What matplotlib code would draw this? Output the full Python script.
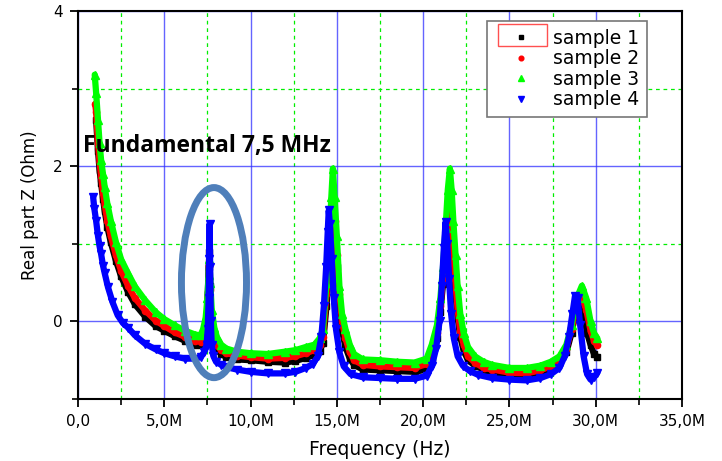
import matplotlib.pyplot as plt
from matplotlib.patches import Ellipse, Rectangle
from matplotlib.ticker import MultipleLocator, FuncFormatter

# frequencies in MHz, real part Z in Ohm
f1 = [1.05, 1.16, 1.25, 1.34, 1.45, 1.55, 1.7, 1.9, 2.2, 2.5, 2.9, 3.3, 3.9, 4.5, 5.0, 5.6, 6.2, 6.8,
      7.1, 7.3, 7.45, 7.52, 7.57, 7.62, 7.66, 7.72, 7.85, 8.0, 8.3, 8.6, 9.2, 10.0, 11.0, 12.0, 12.6,
      13.2, 13.7, 14.0, 14.2, 14.4, 14.55, 14.68, 14.75, 14.85, 15.0, 15.15, 15.3, 15.5, 15.75,
      16.0, 16.5, 17.5, 18.5, 19.5, 20.2, 20.5, 20.8, 21.0, 21.15, 21.3, 21.42, 21.5, 21.6, 21.7,
      21.83, 22.0, 22.15, 22.35, 22.6, 23.0, 23.5, 24.0, 25.0, 26.0, 26.8, 27.4, 27.9, 28.3, 28.6,
      28.9, 29.1, 29.3, 29.5, 29.7, 29.9, 30.1]
z1 = [2.6, 2.2, 1.95, 1.78, 1.58, 1.42, 1.22, 1.02, 0.78, 0.58, 0.38, 0.22, 0.06, -0.06, -0.12, -0.19,
      -0.25, -0.3, -0.31, -0.26, -0.05, 0.35, 0.7, 0.9, 0.45, 0.0, -0.26, -0.36, -0.42, -0.46, -0.49,
      -0.5, -0.52, -0.53, -0.51, -0.47, -0.43, -0.38, -0.28, 0.2, 0.7, 1.25, 1.5, 1.2, 0.7, 0.2, -0.12,
      -0.33, -0.48, -0.56, -0.62, -0.63, -0.64, -0.65, -0.62, -0.48, -0.22, 0.12, 0.48, 0.98, 1.38,
      1.45, 1.25, 0.85, 0.45, 0.05, -0.2, -0.38, -0.5, -0.57, -0.62, -0.66, -0.69, -0.7, -0.66, -0.61,
      -0.53, -0.4, -0.15, 0.18, 0.3, 0.1, -0.15, -0.3, -0.42, -0.46]

f2 = [1.0, 1.05, 1.16, 1.25, 1.34, 1.45, 1.55, 1.7, 1.9, 2.2, 2.5, 2.9, 3.3, 3.9, 4.5, 5.0, 5.6, 6.2,
      6.8, 7.1, 7.3, 7.45, 7.52, 7.57, 7.62, 7.66, 7.72, 7.85, 8.0, 8.3, 8.6, 9.2, 10.0, 11.0, 12.0,
      12.6, 13.2, 13.7, 14.0, 14.2, 14.4, 14.55, 14.68, 14.77, 14.87, 15.0, 15.15, 15.3, 15.5, 15.75,
      16.0, 16.5, 17.5, 18.5, 19.5, 20.2, 20.5, 20.8, 21.0, 21.15, 21.3, 21.42, 21.52, 21.62, 21.72,
      21.85, 22.0, 22.15, 22.35, 22.6, 23.0, 23.5, 24.0, 25.0, 26.0, 26.8, 27.4, 27.9, 28.3, 28.6,
      28.9, 29.2, 29.45, 29.7, 29.9, 30.1]
z2 = [2.8, 2.7, 2.3, 2.05, 1.87, 1.65, 1.5, 1.3, 1.1, 0.85, 0.65, 0.46, 0.3, 0.14, 0.01, -0.06, -0.14,
      -0.2, -0.25, -0.26, -0.2, 0.0, 0.3, 0.55, 0.72, 0.4, 0.05, -0.2, -0.3, -0.37, -0.41, -0.44, -0.46,
      -0.48, -0.47, -0.45, -0.41, -0.37, -0.3, -0.2, 0.35, 0.8, 1.35, 1.6, 1.3, 0.85, 0.35, 0.0, -0.22,
      -0.4, -0.5, -0.56, -0.58, -0.59, -0.6, -0.55, -0.4, -0.15, 0.2, 0.55, 1.05, 1.45, 1.6, 1.35, 0.95,
      0.55, 0.15, -0.12, -0.3, -0.45, -0.53, -0.6, -0.62, -0.66, -0.67, -0.63, -0.58, -0.5, -0.35,
      -0.1, 0.22, 0.3, 0.15, -0.12, -0.25, -0.31]

f3 = [0.97, 1.05, 1.16, 1.25, 1.34, 1.45, 1.55, 1.7, 1.9, 2.2, 2.5, 2.9, 3.3, 3.9, 4.5, 5.0, 5.6, 6.2,
      6.8, 7.1, 7.25, 7.4, 7.5, 7.57, 7.62, 7.67, 7.75, 7.9, 8.05, 8.3, 8.6, 9.2, 10.0, 11.0, 12.0,
      12.6, 13.2, 13.7, 14.0, 14.2, 14.4, 14.55, 14.68, 14.77, 14.87, 15.0, 15.15, 15.3, 15.5, 15.75,
      16.0, 16.5, 17.5, 18.5, 19.5, 20.2, 20.5, 20.8, 21.0, 21.15, 21.3, 21.43, 21.55, 21.65, 21.75,
      21.88, 22.0, 22.15, 22.35, 22.6, 23.0, 23.5, 24.0, 25.0, 26.0, 26.8, 27.4, 27.9, 28.3, 28.6,
      28.9, 29.2, 29.45, 29.7, 29.9, 30.1]
z3 = [3.18, 2.95, 2.6, 2.3, 2.08, 1.9, 1.73, 1.52, 1.3, 1.02, 0.8, 0.62, 0.45, 0.27, 0.12, 0.03, -0.05,
      -0.12, -0.17, -0.18, -0.1, 0.05, 0.3, 0.6, 0.8, 0.5, 0.15, -0.08, -0.2, -0.3, -0.35, -0.39, -0.41,
      -0.42, -0.39, -0.37, -0.33, -0.3, -0.22, -0.1, 0.5, 1.0, 1.6, 1.97, 1.6, 1.1, 0.45, 0.1, -0.1,
      -0.3, -0.42, -0.49, -0.5, -0.52, -0.53, -0.48, -0.3, -0.05, 0.3, 0.7, 1.2, 1.7, 1.97, 1.7, 1.3,
      0.85, 0.45, 0.1, -0.15, -0.33, -0.45, -0.52, -0.56, -0.6, -0.6, -0.57, -0.52, -0.45, -0.3, -0.05,
      0.3, 0.46, 0.3, 0.0, -0.15, -0.22]

f4 = [0.88, 0.95, 1.05, 1.16, 1.25, 1.34, 1.45, 1.55, 1.74, 2.0, 2.3, 2.6, 2.9, 3.3, 3.9, 4.5, 5.0,
      5.6, 6.2, 6.8, 7.1, 7.3, 7.45, 7.52, 7.57, 7.6, 7.63, 7.66, 7.7, 7.75, 7.85, 8.0, 8.3, 8.6, 9.2,
      10.0, 11.0, 12.0, 12.6, 13.2, 13.6, 13.9, 14.1, 14.25, 14.38, 14.47, 14.53, 14.6, 14.7, 14.82,
      14.95, 15.15, 15.4, 15.8, 16.5, 17.5, 18.5, 19.5, 20.2, 20.5, 20.75, 20.95, 21.08, 21.2, 21.3,
      21.4, 21.5, 21.62, 21.78, 22.0, 22.3, 22.7, 23.2, 24.0, 25.0, 26.0, 26.8, 27.4, 27.9, 28.2, 28.45,
      28.65, 28.8, 28.95, 29.1, 29.3, 29.5, 29.7, 29.9, 30.1]
z4 = [1.6, 1.45, 1.3, 1.1, 0.97, 0.87, 0.72, 0.62, 0.44, 0.25, 0.08, -0.02, -0.08, -0.18, -0.29, -0.36,
      -0.41, -0.45, -0.48, -0.48, -0.46, -0.4, -0.3, -0.1, 0.3, 0.8, 1.26, 0.7, 0.0, -0.3, -0.45, -0.52,
      -0.56, -0.59, -0.62, -0.65, -0.67, -0.67, -0.65, -0.6, -0.55, -0.45, -0.2, 0.2, 0.7, 1.15, 1.43,
      1.25, 0.8, 0.3, -0.1, -0.4, -0.58, -0.68, -0.72, -0.73, -0.74, -0.74, -0.7, -0.58, -0.35, 0.0,
      0.45, 0.95, 1.28, 1.0, 0.55, 0.1, -0.22, -0.45, -0.57, -0.64, -0.69, -0.73, -0.75, -0.76, -0.73,
      -0.68, -0.6, -0.45, -0.2, 0.1, 0.33, 0.3, -0.05, -0.45, -0.68, -0.75, -0.72, -0.66]

labels = ['sample 1', 'sample 2', 'sample 3', 'sample 4']

fig = plt.figure(figsize=(7.22, 4.61), dpi=100)
ax = fig.add_axes([0.108, 0.1345, 0.8366, 0.8415])

series = [(f1, z1, 'black', 's', 4.5), (f2, z2, 'red', 'o', 4.5), (f3, z3, '#00ff00', '^', 6),
          (f4, z4, 'blue', 'v', 6)]
for (f, z, c, m, ms), lab in zip(series, labels):
    ax.plot(f, z, color=c, lw=4.5, marker=m, ms=ms, mec=c, label=lab, solid_capstyle='round',
            solid_joinstyle='round')

ax.set_xlim(0, 35)
ax.set_ylim(-1, 4)
ax.xaxis.set_major_locator(MultipleLocator(5))
ax.xaxis.set_minor_locator(MultipleLocator(2.5))
ax.yaxis.set_major_locator(MultipleLocator(2))
ax.yaxis.set_minor_locator(MultipleLocator(1))


def fmt(v, pos):
    if v == 0:
        return '0,0'
    return ('%.1f' % v).replace('.', ',') + 'M'


ax.xaxis.set_major_formatter(FuncFormatter(fmt))
ax.grid(which='major', color='#3030ff', lw=1.0, alpha=0.75)
ax.grid(which='minor', color='#00ee00', lw=0.9, ls=(0, (3, 3)))
ax.set_axisbelow(True)
ax.tick_params(which='major', direction='out', length=6, width=1.3, labelsize=11, pad=5)
ax.tick_params(which='minor', direction='out', length=4, width=1.2)
for s in ax.spines.values():
    s.set_linewidth(1.5)
    s.set_color('black')

ax.set_xlabel('Frequency (Hz)', fontsize=13.5, labelpad=8)
ax.set_ylabel('Real part Z (Ohm)', fontsize=12, labelpad=10)

ax.text(7.45, 2.26, 'Fundamental 7,5 MHz', family='Open Sans', fontweight='bold', fontsize=16.5,
        ha='center', va='center')

ax.add_patch(Ellipse((7.88, 0.5), 3.77, 2.45, fill=False, ec='#4F7FBA', lw=5, zorder=5))

leg = ax.legend(loc='upper left', bbox_to_anchor=(0.677, 0.974), borderaxespad=0, fontsize=13.5,
                fancybox=False, framealpha=1, edgecolor='#777777', labelspacing=0.08,
                handlelength=2.8, handletextpad=0.35, borderpad=0.4, markerscale=0.75)
leg.get_frame().set_linewidth(1.2)
for h in leg.legend_handles:
    h.set_linestyle('none')

fig.patches.append(Rectangle((498 / 722, 1 - 46 / 461), 49 / 722, 22 / 461, transform=fig.transFigure,
                             fill=False, ec='#ff5050', lw=1, zorder=10))

fig.savefig('out.png', dpi=100)
